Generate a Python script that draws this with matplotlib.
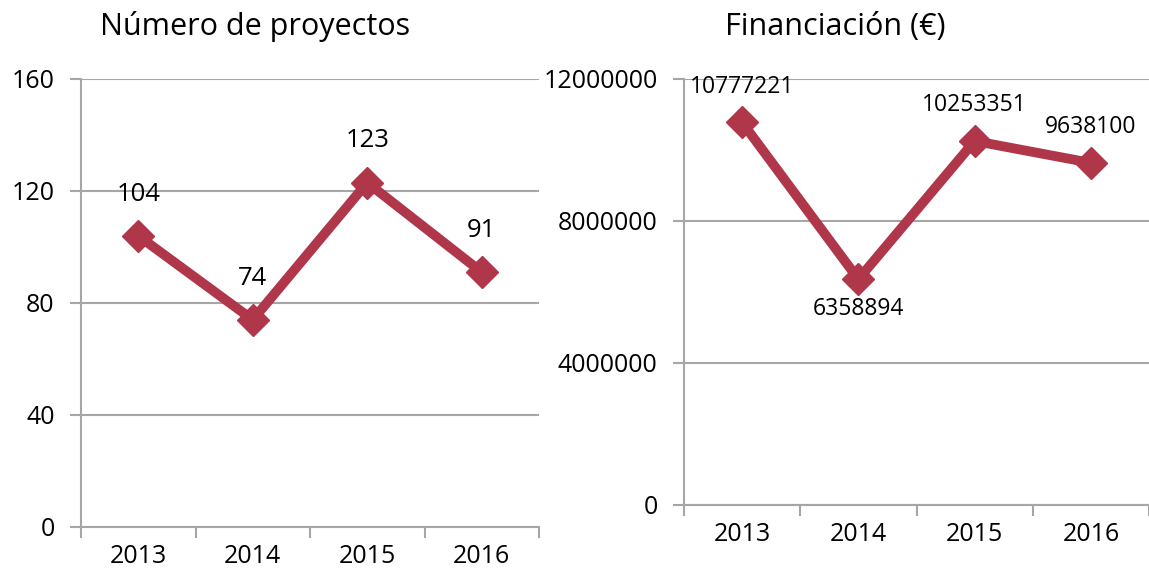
import matplotlib
matplotlib.use("Agg")
import matplotlib.pyplot as plt

years = ["2013", "2014", "2015", "2016"]
proyectos = [104, 74, 123, 91]
financiacion = [10777221, 6358894, 10253351, 9638100]
fin_label_pos = ["above", "below", "above", "above"]

plt.rcParams['font.family'] = ['Open Sans', 'DejaVu Sans']
LINE = "#B0364A"
GRID = "#A6A6A6"

fig = plt.figure(figsize=(11.49, 5.76), dpi=100)
ax1 = fig.add_axes([81/1149, 49/576, 458/1149, 448/576])
ax2 = fig.add_axes([684/1149, 71/576, 465/1149, 426/576])

def style(ax, yticks, ymax):
    ax.set_xlim(0, 4)
    ax.set_ylim(0, ymax)
    ax.set_yticks(yticks)
    ax.set_yticklabels([str(v) for v in yticks], fontsize=18)
    ax.yaxis.grid(True, color=GRID, linewidth=1.5)
    ax.set_axisbelow(True)
    for s in ["top", "right"]:
        ax.spines[s].set_visible(False)
    for s in ["left", "bottom"]:
        ax.spines[s].set_color(GRID)
        ax.spines[s].set_linewidth(1.5)
    ax.set_xticks(range(5))
    ax.set_xticklabels([""] * 5)
    ax.set_xticks([i + 0.5 for i in range(4)], minor=True)
    ax.set_xticklabels(years, minor=True, fontsize=18)
    ax.tick_params(axis="x", which="major", length=8, width=1.5, color=GRID)
    ax.tick_params(axis="x", which="minor", length=0, pad=12)
    ax.tick_params(axis="y", length=8, width=1.5, color=GRID, pad=11)

xs = [i + 0.5 for i in range(4)]
style(ax1, [0, 40, 80, 120, 160], 160)
ax1.plot(xs, proyectos, color=LINE, linewidth=7, marker="D", markersize=16,
         solid_joinstyle="miter", zorder=3, clip_on=False)
for x, v in zip(xs, proyectos):
    ax1.annotate(str(v), (x, v), xytext=(0, 21), textcoords="offset points",
                 ha="center", va="bottom", fontsize=18.5)

style(ax2, [0, 4000000, 8000000, 12000000], 12000000)
ax2.plot(xs, financiacion, color=LINE, linewidth=7, marker="D", markersize=16,
         solid_joinstyle="miter", zorder=3, clip_on=False)
for x, v, p in zip(xs, financiacion, fin_label_pos):
    if p == "above":
        ax2.annotate(str(v), (x, v), xytext=(0, 17), textcoords="offset points",
                     ha="center", va="bottom", fontsize=16.5)
    else:
        ax2.annotate(str(v), (x, v), xytext=(0, -13), textcoords="offset points",
                     ha="center", va="top", fontsize=16.5)

fig.text(255/1149, 1 - 27/576, "Número de proyectos", ha="center", va="center", fontsize=22)
fig.text(835/1149, 1 - 27/576, "Financiación (€)", ha="center", va="center", fontsize=22)

fig.savefig("out.png", dpi=100)
